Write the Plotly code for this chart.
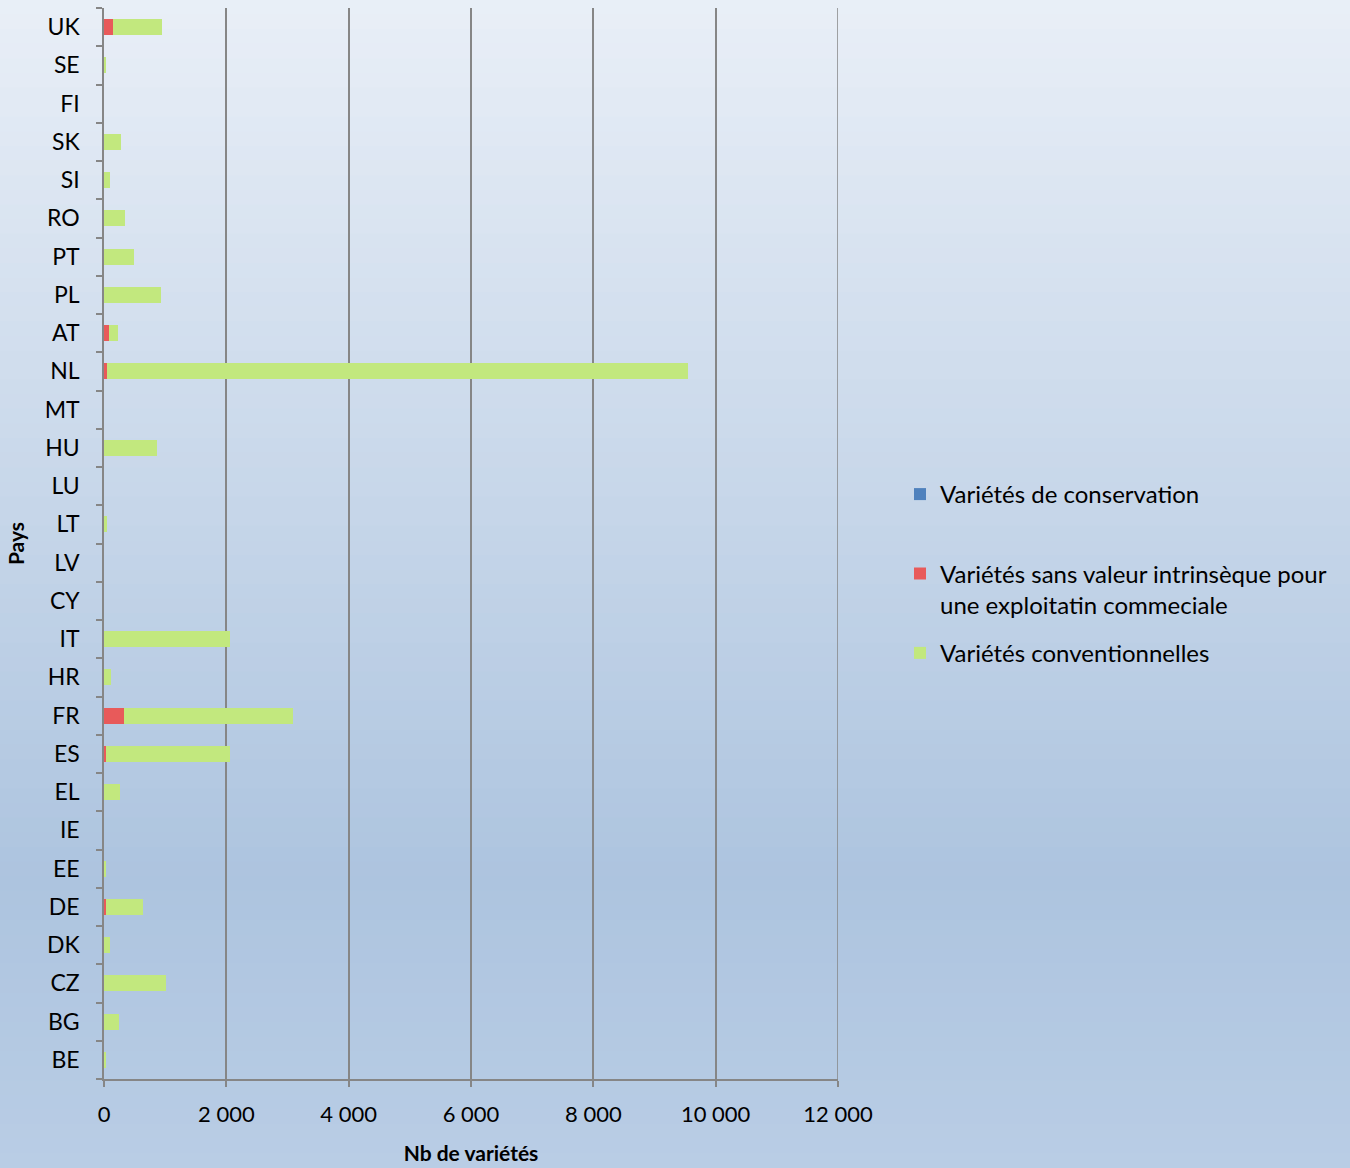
import plotly.graph_objects as go

pays = ["BE", "BG", "CZ", "DK", "DE", "EE", "IE", "EL", "ES", "FR", "HR", "IT", "CY", "LV",
        "LT", "LU", "HU", "MT", "NL", "AT", "PL", "PT", "RO", "SI", "SK", "FI", "SE", "UK"]
conservation = [0, 0, 0, 0, 0, 0, 0, 0, 0, 0, 0, 0, 0, 0,
                0, 0, 0, 0, 0, 0, 0, 0, 0, 0, 0, 0, 0, 0]
sans_valeur = [0, 0, 0, 0, 25, 0, 0, 0, 25, 320, 0, 0, 0, 0,
               0, 0, 0, 0, 45, 75, 0, 0, 0, 0, 0, 0, 0, 155]
conventionnelles = [25, 250, 1010, 95, 615, 20, 0, 260, 2035, 2770, 115, 2060, 0, 0,
                    50, 0, 866, 0, 9495, 155, 930, 490, 350, 95, 280, 0, 30, 795]
x_ticks = [0, 2000, 4000, 6000, 8000, 10000, 12000]
x_tick_labels = ["0", "2 000", "4 000", "6 000", "8 000", "10 000", "12 000"]

W, H = 1350, 1168
L, R, T, B = 104, 512, 8, 89
pw, ph = W - L - R, H - T - B

FONT = "Lato"
GRID = "#868686"

fig = go.Figure()
fig.add_trace(go.Bar(y=pays, x=conservation, orientation="h", name="Variétés de conservation<br> ",
                     legendgroup="g1",
                     marker=dict(color="#4f81bd", line=dict(width=0))))
fig.add_trace(go.Bar(y=pays, x=sans_valeur, orientation="h",
                     name="Variétés sans valeur intrinsèque pour<br>une exploitatin commeciale",
                     legendgroup="g2",
                     marker=dict(color="#e85a5a", line=dict(width=0))))
fig.add_trace(go.Bar(y=pays, x=conventionnelles, orientation="h", name="Variétés conventionnelles",
                     legendgroup="g3",
                     marker=dict(color="#c2e87e", line=dict(width=0))))

# background gradient
def lerp(c1, c2, t):
    return tuple(round(a + (b - a) * t) for a, b in zip(c1, c2))

stops = [(0.0, (0xe9, 0xef, 0xf7)), (0.75, (0xad, 0xc4, 0xdf)), (1.0, (0xb9, 0xcd, 0xe5))]
n = 80
shapes = []
x0p = -L / pw - 0.01
x1p = 1 + R / pw + 0.01
for i in range(n):
    f = (i + 0.5) / n
    for j in range(len(stops) - 1):
        if stops[j][0] <= f <= stops[j + 1][0]:
            t = (f - stops[j][0]) / (stops[j + 1][0] - stops[j][0])
            c = lerp(stops[j][1], stops[j + 1][1], t)
            break
    ytop_px = H * i / n - (2 if i == 0 else 0)
    ybot_px = H * (i + 1) / n + (3 if i == n - 1 else 1)
    y1 = 1 - (ytop_px - T) / ph
    y0 = 1 - (ybot_px - T) / ph
    shapes.append(dict(type="rect", xref="paper", yref="paper", x0=x0p, x1=x1p, y0=y0, y1=y1,
                       fillcolor="rgb(%d,%d,%d)" % c, line=dict(width=0), layer="below"))

# gridline at the right end of the axis
shapes.append(dict(type="line", xref="x", yref="paper", x0=x_ticks[-1], x1=x_ticks[-1], y0=0, y1=1,
                   line=dict(color=GRID, width=1.5), layer="below"))

fig.update_layout(
    width=W, height=H,
    margin=dict(l=L, r=R, t=T, b=B, autoexpand=False),
    barmode="stack",
    bargap=0.58,
    paper_bgcolor="#b9cde5",
    plot_bgcolor="rgba(0,0,0,0)",
    shapes=shapes,
    font=dict(family=FONT, size=22, color="#000000"),
    xaxis=dict(range=[0, 12000], tickvals=x_ticks, ticktext=x_tick_labels,
               showgrid=True, gridcolor=GRID, gridwidth=1.5,
               ticks="outside", ticklen=6, tickcolor=GRID, tickwidth=1.5,
               showline=True, linecolor=GRID, linewidth=1.5,
               zeroline=False, tickfont=dict(size=22, family=FONT), ticklabelstandoff=9,
               title=dict(text="<b>Nb de variétés</b>", font=dict(size=21, family=FONT), standoff=20)),
    yaxis=dict(type="category", categoryorder="array", categoryarray=pays,
               ticks="outside", tickson="boundaries", ticklen=6, tickcolor=GRID, tickwidth=1.5,
               showline=True, linecolor=GRID, linewidth=1.5, showgrid=False,
               tickfont=dict(size=23, family=FONT), ticklabelstandoff=18,
               title=dict(text="<b>Pays</b>", font=dict(size=21, family=FONT), standoff=14)),
    legend=dict(x=(900 - L) / pw, xanchor="left", y=1 - (472 - T) / ph, yanchor="top",
                traceorder="grouped", valign="top", bgcolor="rgba(0,0,0,0)",
                tracegroupgap=14,
                font=dict(size=24, family=FONT), itemwidth=30),
)

fig.write_html("out.html")
